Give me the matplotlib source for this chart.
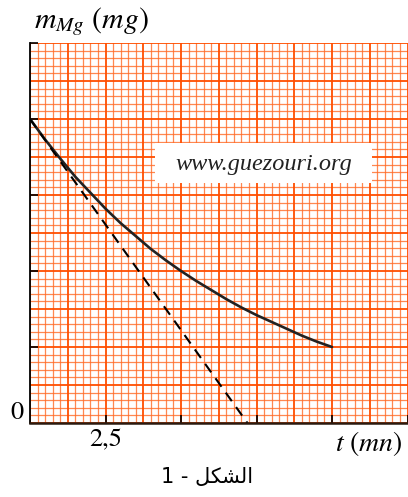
import numpy as np
import matplotlib
matplotlib.use("Agg")
import matplotlib.pyplot as plt
from matplotlib.patches import Rectangle

plt.rcParams['mathtext.fontset'] = 'stix'

# ---- data (y in graph units, 1 unit = 1 major square) ----
t_curve = [0, 0.5, 1, 1.5, 2, 2.5, 3, 3.5, 4, 4.5, 5, 5.5, 6, 6.5, 7, 7.5, 8, 8.5, 9, 9.5, 10]
m_curve = [4.0, 3.73, 3.48, 3.24, 3.03, 2.82, 2.63, 2.46, 2.29, 2.14, 2.0,
           1.87, 1.75, 1.63, 1.52, 1.42, 1.33, 1.24, 1.15, 1.07, 1.0]
t_tangent = [0, 7.2]
m_tangent = [4.0, 0.0]
x_ticks = [2.5, 5, 7.5, 10, 12.5]
x_tick_labels = ['2,5', '', '', '', '']
y_ticks = [1, 2, 3, 4, 5]
y_label = r'$m_{Mg}\ (mg)$'
x_label = r'$t\ (mn)$'
watermark = 'www.guezouri.org'
caption = 'الشكل - 1'

# minimal Arabic shaping (presentation forms) + visual reordering
_forms = {  # iso, final, initial, medial, joins_next
    'ا': ('\uFE8D', '\uFE8E', '\uFE8D', '\uFE8E', False),
    'ل': ('\uFEDD', '\uFEDE', '\uFEDF', '\uFEE0', True),
    'ش': ('\uFEB5', '\uFEB6', '\uFEB7', '\uFEB8', True),
    'ك': ('\uFED9', '\uFEDA', '\uFEDB', '\uFEDC', True),
}

def _shape_word(w):
    out = []
    for i, ch in enumerate(w):
        if ch not in _forms:
            out.append(ch)
            continue
        prev_j = i > 0 and w[i-1] in _forms and _forms[w[i-1]][4]
        next_j = _forms[ch][4] and i + 1 < len(w) and w[i+1] in _forms
        iso, fin, ini, med, _ = _forms[ch]
        out.append(med if (prev_j and next_j) else fin if prev_j else ini if next_j else iso)
    return ''.join(out)[::-1]

def visual_rtl(s):
    toks = s.split(' ')
    toks = [_shape_word(t) if any(c in _forms for c in t) else t for t in toks]
    return ' '.join(toks[::-1])

fig = plt.figure(figsize=(4.08, 4.97), dpi=100)
ax = fig.add_axes([30/408, 74/497, 377.5/408, 380/497])
ax.set_xlim(0, 12.5)
ax.set_ylim(0, 5)

minor_c = '#FF6A25'
major_c = '#FF4E00'
# graph paper
for x in np.arange(0, 12.5001, 0.25):
    k = round(x / 0.25)
    if k % 5 == 0:
        ax.axvline(x, color=major_c, lw=1.3, zorder=1)
    else:
        ax.axvline(x, color=minor_c, lw=0.9, alpha=0.8, zorder=0.5)
for y in np.arange(0, 5.0001, 0.1):
    k = round(y / 0.1)
    if k % 5 == 0:
        ax.axhline(y, color=major_c, lw=1.3, zorder=1)
    else:
        ax.axhline(y, color=minor_c, lw=0.9, alpha=0.8, zorder=0.5)

# watermark box
ax.add_patch(Rectangle((4.14, 3.16), 7.18, 0.52, facecolor='white', edgecolor='none', zorder=2))
ax.text(7.73, 3.40, watermark, ha='center', va='center', fontsize=17.5,
        family='Liberation Serif', style='italic', color='#222222', zorder=3)

ax.plot(t_curve, m_curve, color='#222222', lw=1.9, solid_capstyle='round', zorder=4)
ax.plot(t_tangent, m_tangent, color='black', lw=1.5, dashes=(5, 3.5), zorder=4)

for s in ['top', 'right']:
    ax.spines[s].set_visible(False)
ax.spines['left'].set_color('black')
ax.spines['left'].set_linewidth(1.3)
ax.spines['bottom'].set_color('#2a1a10')
ax.spines['bottom'].set_linewidth(1.8)
ax.spines['left'].set_zorder(5)
ax.spines['bottom'].set_zorder(5)

ax.set_xticks(x_ticks, x_tick_labels)
ax.set_yticks(y_ticks, [''] * len(y_ticks))
ax.tick_params(axis='both', direction='in', length=5.5, width=1.2, color='black')
ax.tick_params(axis='x', pad=4, labelsize=19)
for lbl in ax.get_xticklabels():
    lbl.set_family('STIXGeneral')

ax.text(-0.2, -0.02, '0', ha='right', va='bottom', fontsize=19, family='STIXGeneral',
        transform=ax.transData)
ax.text(11.2, -0.08, x_label, ha='center', va='top', fontsize=20)
fig.text(34/408, 1 - 22/497, y_label, ha='left', va='center', fontsize=21.5)
fig.text(207/408, 1 - 477/497, visual_rtl(caption), ha='center', va='center',
         fontsize=15, family='DejaVu Sans')

fig.savefig('out.png', dpi=100)
